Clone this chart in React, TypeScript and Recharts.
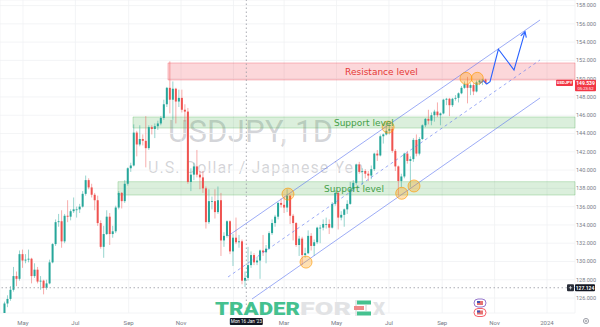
import React from 'react';
import {
  ComposedChart,
  Bar,
  Line,
  XAxis,
  YAxis,
  CartesianGrid,
  ReferenceArea,
  ReferenceLine,
  ReferenceDot,
} from 'recharts';

// frame
const W = 600;
const H = 327;
const AXIS_W = 25;
const AXIS_H = 14;
const PLOT_W = W - AXIS_W;
const PLOT_H = H - AXIS_H;

// x is in days counted from 1 Apr 2022
const X_MIN = 3.26;
const X_MAX = 672.6;
const Y_MIN = 124.36;
const Y_MAX = 158.61;

const GREEN = '#26a69a';
const RED = '#ef5350';
const BLUE = '#5a74f0';
const GRID = '#f0f1f4';
const AXIS_TEXT = '#787b86';

// one bar every 3.5 days (Apr 2022 -> Oct 2023)
const FIRST_DAY = 5;
const DAY_STEP = 3.5;

const opens = [
  122.9, 123.9, 125.4, 125.9, 126.9, 128.4, 128.1, 130.8, 130.1, 130.2,
  130.3, 128.4, 129.1, 127.8, 127.9, 127.1, 127.6, 129.9, 131.9, 134.3,
  134.4, 132.2, 135.0, 134.9, 135.5, 135.7, 135.7, 136.0, 137.4, 138.9,
  138.1, 137.3, 136.7, 134.2, 131.6, 133.0, 134.9, 133.0, 133.3, 135.9,
  137.5, 136.6, 138.5, 140.2, 140.5, 144.1, 142.8, 143.4, 143.2, 142.4,
  144.7, 144.5, 144.8, 145.1, 145.7, 147.2, 149.0, 147.7, 148.9, 147.5,
  147.9, 146.6, 146.4, 138.7, 139.5, 140.4, 139.5, 139.2, 138.0, 134.3,
  136.6, 136.6, 135.4, 136.7, 132.3, 132.8, 134.4, 131.1, 132.6, 132.1,
  132.2, 127.9, 128.2, 129.6, 130.7, 129.9, 130.1, 131.2, 131.0, 131.4,
  133.1, 134.2, 134.9, 136.4, 136.2, 135.9, 137.2, 135.0, 134.2, 131.8,
  132.5, 130.7, 130.9, 132.8, 131.7, 132.1, 133.7, 133.7, 134.1, 134.1,
  133.7, 136.3, 137.5, 134.8, 135.1, 135.7, 136.3, 137.9, 138.6, 140.6,
  139.8, 139.9, 139.6, 139.4, 140.1, 141.8, 141.6, 143.7, 143.9, 144.3,
  144.5, 142.1, 140.4, 138.8, 139.3, 141.8, 141.0, 141.2, 143.3, 141.8,
  143.4, 144.9, 145.6, 145.4, 146.0, 146.4, 146.0, 146.2, 147.7, 147.8,
  147.1, 147.8, 147.9, 148.4, 149.0, 149.4, 149.0, 149.3, 148.6, 149.6,
  149.8, 149.9,
];

const highs = [
  124.1, 125.6, 126.3, 127.3, 129.4, 128.9, 131.2, 131.3, 130.8, 131.3,
  130.4, 129.8, 129.4, 128.4, 128.0, 128.0, 130.2, 132.0, 134.6, 135.2,
  135.6, 135.2, 136.7, 135.7, 137.0, 136.0, 136.3, 137.7, 139.4, 139.1,
  138.5, 137.5, 137.2, 134.5, 133.9, 135.6, 135.3, 133.9, 136.1, 137.7,
  137.6, 138.9, 140.3, 140.8, 145.0, 144.3, 144.9, 143.9, 145.9, 144.9,
  144.9, 145.1, 145.4, 145.9, 147.7, 149.1, 151.9, 149.7, 149.0, 148.8,
  148.8, 147.2, 146.8, 140.2, 140.8, 142.2, 139.9, 139.9, 138.2, 137.9,
  137.1, 137.9, 138.2, 137.5, 133.2, 134.5, 134.5, 133.0, 134.8, 132.9,
  132.4, 128.9, 131.6, 131.1, 130.9, 130.5, 131.3, 132.9, 131.8, 133.3,
  134.6, 135.1, 136.5, 136.9, 137.1, 137.9, 137.3, 135.2, 134.3, 132.8,
  132.7, 131.5, 133.4, 133.1, 132.4, 133.8, 134.0, 134.6, 134.8, 134.6,
  136.5, 137.8, 137.6, 135.5, 135.8, 136.7, 138.7, 138.9, 140.7, 140.9,
  140.2, 140.1, 139.9, 140.5, 141.9, 142.2, 143.9, 144.0, 145.1, 144.9,
  144.7, 142.3, 140.5, 139.6, 141.9, 142.1, 141.5, 143.5, 143.9, 143.6,
  145.0, 145.7, 146.6, 146.3, 146.6, 147.4, 146.3, 147.8, 147.9, 147.9,
  147.9, 148.2, 148.5, 149.2, 149.7, 150.2, 149.5, 149.5, 149.8, 149.9,
  150.0, 150.0,
];

const lows = [
  122.7, 123.7, 125.0, 125.7, 126.7, 127.3, 127.9, 129.3, 129.8, 129.9,
  127.6, 128.2, 127.6, 126.9, 126.4, 126.9, 127.5, 129.8, 131.7, 133.8,
  131.5, 132.0, 134.3, 134.5, 135.3, 134.8, 135.3, 135.9, 137.2, 137.9,
  137.0, 135.6, 133.9, 131.4, 130.4, 132.9, 131.8, 132.6, 133.1, 135.7,
  135.8, 136.4, 138.3, 139.8, 140.4, 141.5, 142.6, 142.7, 140.3, 142.2,
  143.9, 143.5, 144.4, 144.9, 145.5, 146.9, 146.2, 145.5, 145.1, 146.9,
  146.3, 145.3, 138.5, 137.7, 138.9, 139.2, 137.9, 137.5, 133.6, 134.1,
  135.7, 134.7, 135.2, 130.6, 131.6, 132.6, 130.8, 129.5, 131.9, 131.5,
  127.5, 127.2, 127.9, 129.3, 129.6, 129.6, 128.1, 130.6, 129.8, 131.3,
  132.9, 133.8, 134.6, 135.9, 135.3, 135.4, 134.1, 132.3, 131.6, 130.6,
  129.6, 130.4, 130.8, 131.2, 130.6, 131.9, 132.0, 133.4, 133.6, 133.0,
  133.6, 136.1, 133.5, 134.5, 133.8, 135.2, 136.2, 137.6, 138.4, 139.6,
  138.4, 139.1, 138.8, 139.0, 139.9, 141.0, 141.5, 142.9, 143.8, 143.9,
  141.9, 139.9, 137.2, 138.1, 139.1, 140.7, 138.1, 140.9, 141.5, 141.6,
  143.3, 144.7, 145.0, 144.9, 145.3, 145.8, 144.9, 146.1, 147.1, 145.9,
  146.9, 147.6, 147.4, 148.3, 148.9, 147.3, 148.2, 148.2, 148.5, 149.3,
  149.3, 149.4,
];

const closes = [
  123.9, 125.4, 125.9, 126.9, 128.4, 128.1, 130.8, 130.1, 130.2, 130.3,
  128.4, 129.1, 127.8, 127.9, 127.1, 127.6, 129.9, 131.9, 134.3, 134.4,
  132.2, 135.0, 134.9, 135.5, 135.7, 135.7, 136.0, 137.4, 138.9, 138.1,
  137.3, 136.7, 134.2, 131.6, 133.0, 134.9, 133.0, 133.3, 135.9, 137.5,
  136.6, 138.5, 140.2, 140.5, 144.1, 142.8, 143.4, 143.2, 142.4, 144.7,
  144.5, 144.8, 145.1, 145.7, 147.2, 149.0, 147.7, 148.9, 147.5, 147.9,
  146.6, 146.4, 138.7, 139.5, 140.4, 139.5, 139.2, 138.0, 134.3, 136.6,
  136.6, 135.4, 136.7, 132.3, 132.8, 134.4, 131.1, 132.6, 132.1, 132.2,
  127.9, 128.2, 129.6, 130.7, 129.9, 130.1, 131.2, 131.0, 131.4, 133.1,
  134.2, 134.9, 136.4, 136.2, 135.9, 137.2, 135.0, 134.2, 131.8, 132.5,
  130.7, 130.9, 132.8, 131.7, 132.1, 133.7, 133.7, 134.1, 134.1, 133.7,
  136.3, 137.5, 134.8, 135.1, 135.7, 136.3, 137.9, 138.6, 140.6, 139.8,
  139.9, 139.6, 139.4, 140.1, 141.8, 141.6, 143.7, 143.9, 144.3, 144.5,
  142.1, 140.4, 138.8, 139.3, 141.8, 141.0, 141.2, 143.3, 141.8, 143.4,
  144.9, 145.6, 145.4, 146.0, 146.4, 146.0, 146.2, 147.7, 147.8, 147.1,
  147.8, 147.9, 148.4, 149.0, 149.4, 149.0, 149.3, 148.6, 149.6, 149.8,
  149.9, 149.54,
];

const LAST_PRICE = '149.539';

// axis ticks ("2023" sits under the crosshair date tag, so it shows nothing)
const monthTickDays = [30, 91, 153, 214, 275, 334, 395, 456, 518, 579, 640];
const monthTickLabels = ['May', 'Jul', 'Sep', 'Nov', '', 'Mar', 'May', 'Jul', 'Sep', 'Nov', '2024'];
const priceTicks = [126, 128, 130, 132, 134, 136, 138, 140, 142, 144, 146, 148, 150, 152, 154, 156];
// the axis will not draw a tick this close to the top edge; it is written in the overlay
const TOP_PRICE_TICK = 158;

// drawn zones
const zoneNames = ['Resistance level', 'Support level', 'Support level'];
const zoneStartDays = [198.8, 158.1, 140.6];
const zoneLows = [149.86, 144.6, 137.27];
const zoneHighs = [151.72, 145.81, 138.73];
const zoneLabelDays = [405, 392, 380.5];

// channel (upper, middle dashed, lower)
const channelStartDays = [268.7, 268.7, 296.6];
const channelStartPrices = [132.79, 128.3, 125.89];
const channelEndDays = [631.9, 631.9, 631.9];
const channelEndPrices = [156.42, 152.05, 147.89];

// touch points
const touchDays = [338.5, 359.5, 455, 470.9, 485.2, 545.7, 558.9];
const touchPrices = [137.37, 129.93, 144.7, 137.46, 138.26, 150.04, 150.04];

// projected path
const projDays = [562.1, 565.9, 569.8, 573.7, 583.4, 601.6, 614.4];
const projPrices = [149.5, 149.78, 149.42, 149.67, 153.22, 150.95, 155.14];

// crosshair
const CROSS_DAY = 290;
const CROSS_PRICE = 127.124;

const candles = closes.map((c, i) => ({
  day: FIRST_DAY + i * DAY_STEP,
  open: opens[i],
  high: highs[i],
  low: lows[i],
  close: c,
}));

const projection = projDays.map((d, i) => ({ day: d, price: projPrices[i] }));

const sx = PLOT_W / (X_MAX - X_MIN);
const sy = PLOT_H / (Y_MAX - Y_MIN);
const xOf = (d: number) => (d - X_MIN) * sx;
const yOf = (p: number) => (Y_MAX - p) * sy;

const Candle = (props: any) => {
  const { x, width, payload } = props;
  let { y, height } = props;
  if (height < 0) {
    y += height;
    height = -height;
  }
  const { open, close, high, low } = payload;
  const color = close >= open ? GREEN : RED;
  const ppu = high > low ? height / (high - low) : 0;
  const yo = y + (high - open) * ppu;
  const yc = y + (high - close) * ppu;
  const cx = x + width / 2;
  const top = Math.min(yo, yc);
  const bh = Math.max(Math.abs(yo - yc), 0.8);
  return (
    <g>
      <line x1={cx} x2={cx} y1={y} y2={y + height} stroke={color} strokeOpacity={0.6} strokeWidth={0.8} />
      <rect x={cx - 1} y={top} width={2} height={bh} fill={color} />
    </g>
  );
};

const PriceTick = (props: any) => {
  const { x, y, payload } = props;
  return (
    <text x={x + 1} y={y} dy="0.35em" fontSize={5.5} fill={AXIS_TEXT} textAnchor="start">
      {Number(payload.value).toFixed(3)}
    </text>
  );
};

const ArrowTip = (props: any) => {
  const { cx, cy, index } = props;
  const n = projDays.length;
  if (index !== n - 1 || cx == null) return <g key={`pt-${index}`} />;
  const dx = (projDays[n - 1] - projDays[n - 2]) * sx;
  const dy = -(projPrices[n - 1] - projPrices[n - 2]) * sy;
  const a = Math.atan2(dy, dx);
  const L = 6;
  const p1 = [cx - L * Math.cos(a - 0.5), cy - L * Math.sin(a - 0.5)];
  const p2 = [cx - L * Math.cos(a + 0.5), cy - L * Math.sin(a + 0.5)];
  return (
    <polyline
      key="tip"
      points={`${p1[0]},${p1[1]} ${cx},${cy} ${p2[0]},${p2[1]}`}
      fill="none"
      stroke="#2962ff"
      strokeWidth={1.1}
    />
  );
};

const Tag = ({ x, y, w, h, fill, children }: any) => (
  <g>
    <rect x={x} y={y} width={w} height={h} rx={1} fill={fill} />
    {children}
  </g>
);

const App = () => {
  const crossX = xOf(CROSS_DAY);
  const crossY = yOf(CROSS_PRICE);
  const lastY = yOf(closes[closes.length - 1]);
  const topY = yOf(TOP_PRICE_TICK);
  return (
    <div
      style={{
        position: 'absolute',
        left: 0,
        top: 0,
        width: W,
        height: H,
        background: '#fff',
        fontFamily: 'Roboto, "Liberation Sans", sans-serif',
      }}
    >
      {/* watermark behind the candles */}
      <svg width={W} height={H} style={{ position: 'absolute', left: 0, top: 0 }}>
        <line x1={0} x2={PLOT_W} y1={topY} y2={topY} stroke={GRID} strokeWidth={0.8} />
        <text x={168} y={142} fontSize={31} fill="#787b86" fillOpacity={0.32} textLength={165}>
          USDJPY, 1D
        </text>
        <text x={148} y={173} fontSize={16} fill="#787b86" fillOpacity={0.32} textLength={215}>
          U.S. Dollar / Japanese Yen
        </text>
      </svg>

      <div style={{ position: 'absolute', left: 0, top: 0 }}>
        <ComposedChart width={W} height={H} data={candles} margin={{ top: 0, right: 0, bottom: 0, left: 0 }}>
          <CartesianGrid stroke={GRID} strokeWidth={0.8} />
          <XAxis
            dataKey="day"
            type="number"
            domain={[X_MIN, X_MAX]}
            allowDataOverflow
            ticks={monthTickDays}
            interval={0}
            tickFormatter={(v: number) => monthTickLabels[monthTickDays.indexOf(v)] ?? ''}
            height={AXIS_H}
            axisLine={false}
            tickLine={false}
            tickSize={0}
            tickMargin={7.5}
            tick={{ fontSize: 6, fill: AXIS_TEXT }}
          />
          <YAxis
            orientation="right"
            type="number"
            domain={[Y_MIN, Y_MAX]}
            allowDataOverflow
            ticks={priceTicks}
            interval={0}
            width={AXIS_W}
            axisLine={false}
            tickLine={false}
            tickSize={0}
            tickMargin={0}
            tick={PriceTick}
          />

          {zoneNames.map((name, i) => (
            <ReferenceArea
              key={`zone-${i}`}
              x1={zoneStartDays[i]}
              x2={X_MAX}
              y1={zoneLows[i]}
              y2={zoneHighs[i]}
              fill={i === 0 ? '#f23645' : '#4caf50'}
              fillOpacity={0.2}
              stroke={i === 0 ? '#f23645' : '#4caf50'}
              strokeOpacity={0.3}
              ifOverflow="visible"
            />
          ))}

          <ReferenceLine x={CROSS_DAY} stroke="#9598a1" strokeDasharray="1.5 2.5" strokeWidth={0.8} />
          <ReferenceLine y={CROSS_PRICE} stroke="#9598a1" strokeDasharray="1.5 2.5" strokeWidth={0.8} />

          <Bar
            dataKey={(d: any) => [d.low, d.high]}
            barSize={2}
            shape={Candle}
            isAnimationActive={false}
          />

          {channelStartDays.map((d, i) => (
            <ReferenceLine
              key={`ch-${i}`}
              segment={[
                { x: d, y: channelStartPrices[i] },
                { x: channelEndDays[i], y: channelEndPrices[i] },
              ]}
              stroke={BLUE}
              strokeOpacity={0.75}
              strokeWidth={0.8}
              strokeDasharray={i === 1 ? '3 3' : undefined}
              ifOverflow="visible"
            />
          ))}

          {touchDays.map((d, i) => (
            <ReferenceDot
              key={`touch-${i}`}
              x={d}
              y={touchPrices[i]}
              r={6}
              fill="#ff9800"
              fillOpacity={0.3}
              stroke="#ff9800"
              strokeOpacity={0.8}
              strokeWidth={0.8}
              ifOverflow="visible"
            />
          ))}

          <Line
            data={projection}
            dataKey="price"
            type="linear"
            stroke="#2962ff"
            strokeWidth={1.1}
            dot={ArrowTip}
            activeDot={false}
            isAnimationActive={false}
          />
        </ComposedChart>
      </div>

      {/* labels, tags and logo on top */}
      <svg width={W} height={H} style={{ position: 'absolute', left: 0, top: 0, pointerEvents: 'none' }}>
        <text x={PLOT_W + 1} y={topY} dy="0.35em" fontSize={5.5} fill={AXIS_TEXT}>
          {TOP_PRICE_TICK.toFixed(3)}
        </text>

        {zoneNames.map((name, i) => (
          <text
            key={`zl-${i}`}
            x={xOf(zoneLabelDays[i])}
            y={yOf((zoneLows[i] + zoneHighs[i]) / 2) + 3.2}
            fontSize={9}
            fontFamily='"DejaVu Sans", sans-serif'
            fill={i === 0 ? '#e53935' : '#43a047'}
          >
            {name}
          </text>
        ))}

        {/* last price */}
        <Tag x={556} y={lastY - 3.2} w={17} h={6.4} fill="#f23645">
          <text x={564.5} y={lastY + 1.5} fontSize={4.2} fill="#fff" textAnchor="middle" fontWeight="bold">
            USDJPY
          </text>
        </Tag>
        <Tag x={575} y={lastY - 3.2} w={21} h={11.5} fill="#f23645">
          <text x={585.5} y={lastY + 1.8} fontSize={5} fill="#fff" textAnchor="middle" fontWeight="bold">
            {LAST_PRICE}
          </text>
          <text x={585.5} y={lastY + 6.9} fontSize={4.2} fill="#fff" textAnchor="middle">
            05:23:52
          </text>
        </Tag>

        {/* crosshair tags */}
        <Tag x={567} y={crossY - 3.5} w={7} h={7} fill="#2a2e39">
          <line x1={568.8} x2={572.2} y1={crossY} y2={crossY} stroke="#fff" strokeWidth={0.6} />
          <line x1={570.5} x2={570.5} y1={crossY - 1.7} y2={crossY + 1.7} stroke="#fff" strokeWidth={0.6} />
        </Tag>
        <Tag x={575} y={crossY - 3.5} w={20} h={7} fill="#131722">
          <text x={585} y={crossY + 1.8} fontSize={5} fill="#fff" textAnchor="middle" fontWeight="bold">
            {CROSS_PRICE.toFixed(3)}
          </text>
        </Tag>
        <Tag x={crossX - 16.5} y={318} w={33} h={7} fill="#131722">
          <text x={crossX} y={323.2} fontSize={4.6} fill="#fff" textAnchor="middle">
            Mon 16 Jan '23
          </text>
        </Tag>

        {/* event badges */}
        <rect x={474} y={299} width={12} height={8} rx={4} fill="#fff" stroke="#7e57c2" strokeWidth={0.8} />
        <rect x={477} y={301} width={6} height={4} fill="#e57373" />
        <rect x={477} y={301} width={3} height={2} fill="#3f51b5" />
        <rect x={474} y={308.5} width={12} height={8} rx={4} fill="#fff" stroke="#f23645" strokeWidth={0.8} />
        <rect x={477} y={310.5} width={6} height={4} fill="#e57373" />
        <rect x={477} y={310.5} width={3} height={2} fill="#3f51b5" />

        {/* settings gear */}
        <circle cx={586} cy={321} r={2.6} fill="none" stroke="#787b86" strokeWidth={0.7} />
        <circle cx={586} cy={321} r={0.9} fill="none" stroke="#787b86" strokeWidth={0.6} />

        {/* logo */}
        <text x={215} y={315} fontSize={19} fontWeight={900} fill="#45c18f" textLength={85} lengthAdjust="spacingAndGlyphs" fontFamily="Roboto, sans-serif">
          TRADER
        </text>
        <text x={300} y={315} fontSize={19} fontWeight={900} fill="#e2e3e5" textLength={51} lengthAdjust="spacingAndGlyphs" fontFamily="Roboto, sans-serif">
          FOR
        </text>
        <line x1={356} x2={356} y1={300} y2={316} stroke="#d0d0d0" strokeWidth={1} />
        <rect x={357} y={300.5} width={14} height={4} fill="#45c18f" />
        <rect x={354} y={306} width={10} height={4} fill="#ef8a8a" />
        <rect x={357} y={311.5} width={14} height={4} fill="#45c18f" />
        <line x1={366} x2={366} y1={305} y2={311} stroke="#d0d0d0" strokeWidth={1} />
        <text x={373} y={315} fontSize={19} fontWeight={900} fill="#e2e3e5" textLength={12} lengthAdjust="spacingAndGlyphs" fontFamily="Roboto, sans-serif">
          X
        </text>
      </svg>
    </div>
  );
};

export default App;
